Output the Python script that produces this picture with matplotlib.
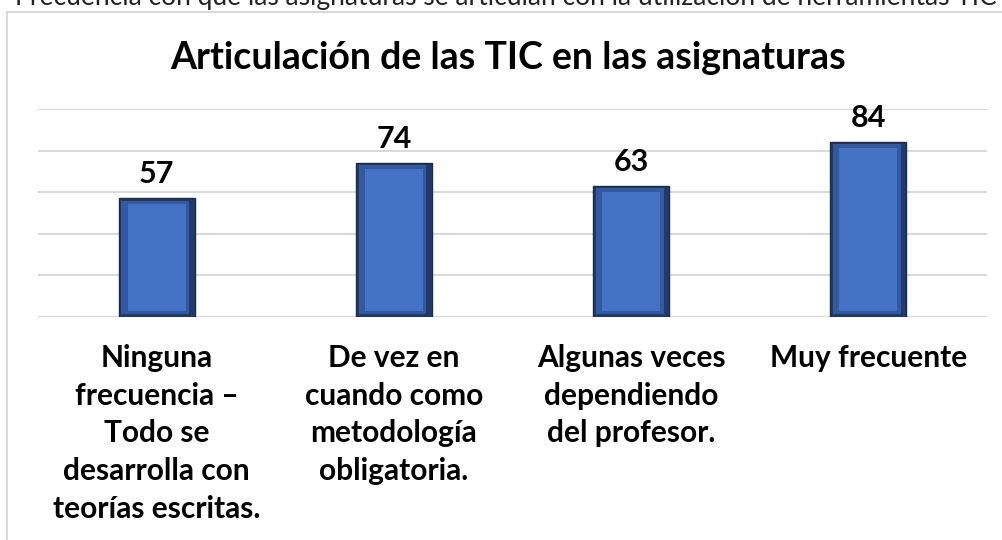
import matplotlib.pyplot as plt
from matplotlib.patches import Rectangle

categorias = ["Ninguna\nfrecuencia –\nTodo se\ndesarrolla con\nteorías escritas.",
              "De vez en\ncuando como\nmetodología\nobligatoria.",
              "Algunas veces\ndependiendo\ndel profesor.",
              "Muy frecuente"]
valores = [57, 74, 63, 84]
titulo = "Articulación de las TIC en las asignaturas"
encabezado = "Frecuencia con que las asignaturas se articulan con la utilización de herramientas TIC"

plt.rcParams['font.family'] = ['Lato', 'DejaVu Sans']

fig = plt.figure(figsize=(10.03, 5.40), dpi=100)
fig.patch.set_facecolor('white')

# marco del gráfico (cortado a la derecha y abajo)
fig.patches.append(Rectangle((7/1003, -0.1), 1.2, 1 - 12/540 + 0.1, transform=fig.transFigure,
                             fill=False, edgecolor='#d9d9d9', linewidth=1.5))
fig.text(15/1003, 1 - 4.5/540, encabezado, fontsize=19, va='baseline', ha='left', color='#222222')

ax = fig.add_axes([38/1003, 1 - 317/540, 949/1003, 208/540])
x = range(len(valores))
ax.set_ylim(0, 100)
ax.set_xlim(-0.5, 3.5)
ax.set_yticks([0, 20, 40, 60, 80, 100])
ax.yaxis.grid(True, color='#d9d9d9', linewidth=1.5)
ax.set_axisbelow(True)
for s in ax.spines.values():
    s.set_visible(False)
ax.tick_params(left=False, bottom=False, labelleft=False)

ancho = 0.32
ax.bar(x, valores, width=ancho, color='#22396a', edgecolor='#1a2a4d', linewidth=1)
ax.bar([xi - 0.006 for xi in x], [v - 2.5 for v in valores], width=ancho - 0.035, bottom=1.5,
       color='#35599e', linewidth=0)
ax.bar(x, [v - 5.5 for v in valores], width=ancho - 0.075, bottom=2.8,
       color='#4472c4', linewidth=0)

for xi, v in zip(x, valores):
    ax.text(xi, v + 5, str(v), ha='center', va='bottom', fontsize=22, fontweight='bold')

ax.set_xticks(list(x))
ax.set_xticklabels(categorias, fontsize=21.5, fontweight='bold', linespacing=1.42)
ax.tick_params(axis='x', pad=16)

fig.text(508/1003, 1 - 58/540, titulo, ha='center', va='center', fontsize=27, fontweight='bold')

fig.savefig('out.png', dpi=100, facecolor='white')
